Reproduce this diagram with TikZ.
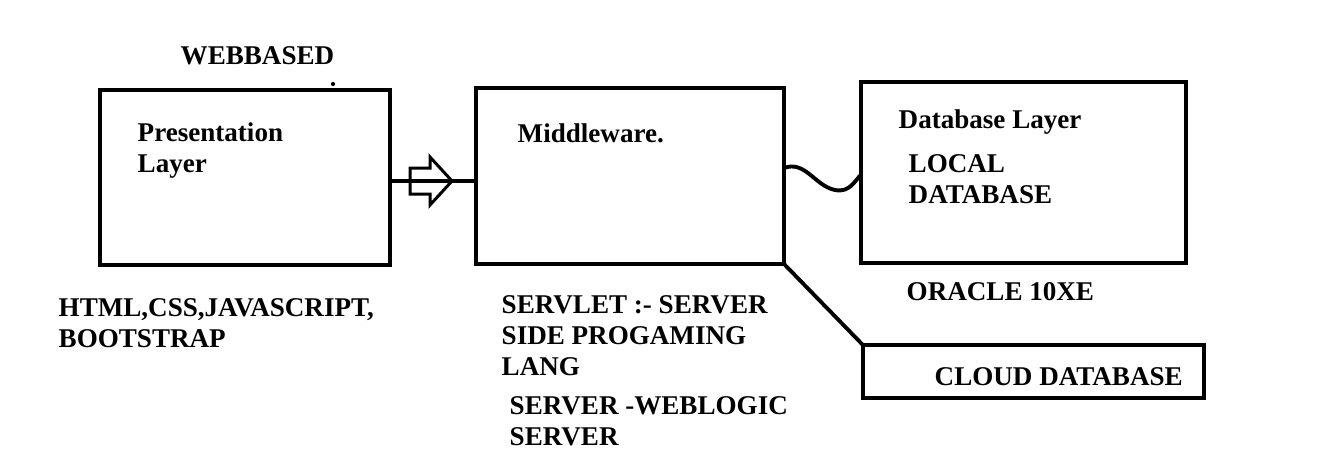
\documentclass[tikz,border=0pt]{standalone}
\usepackage{fontspec}
\setmainfont{Liberation Serif}
\usetikzlibrary{positioning}

\begin{document}
\begin{tikzpicture}[x=0.01cm,y=-0.01cm,
	layerbox/.style={draw, line width=1.15pt, inner sep=0pt, outer sep=0pt},
	label/.style={anchor=base west, inner sep=0pt, align=left,
		font=\bfseries\fontsize{7.7}{8.7}\selectfont},
	conn/.style={line width=1.1pt}]
	\useasboundingbox (0,0) rectangle (1325,460);

	% layer boxes
	\node[layerbox, minimum width=2.90cm, minimum height=1.75cm] (pres) at (245,177.5) {};
	\node[layerbox, minimum width=3.08cm, minimum height=1.76cm] (mid) at (630,176) {};
	\node[layerbox, minimum width=3.25cm, minimum height=1.81cm] (db) at (1023.5,172.5) {};
	\node[layerbox, minimum width=3.41cm, minimum height=0.53cm] (cloud) at (1033.5,371.5) {};

	% texts (base of the last line)
	\node[label] (webbased) at (180,64) {WEBBASED};
	\fill (333,84) circle (0.6pt);
	\node[label] (prestext) at (137,172) {Presentation\\Layer};
	\node[label] (midtext) at (517,142) {Middleware.};
	\node[label] (dbtext) at (898,128) {Database Layer};
	\node[label] (localdb) at (908,203) {LOCAL\\DATABASE};
	\node[label] (prestech) at (58,347) {HTML,CSS,JAVASCRIPT,\\BOOTSTRAP};
	\node[label] (servlet) at (501,375) {SERVLET :- SERVER\\SIDE PROGAMING\\LANG};
	\node[label] (weblogic) at (509,445) {SERVER -WEBLOGIC\\SERVER};
	\node[label] (oracle) at (906,300) {ORACLE 10XE};
	\node[label] (cloudtext) at (934,385) {CLOUD DATABASE};

	% hollow arrow
	\draw[line width=0.85pt, line join=miter] (410,168) -- (430,168) -- (430,157) -- (452,181)
		-- (430,205) -- (430,194) -- (410,194) -- cycle;

	% connectors
	\draw[conn] ([yshift=-0.035cm]pres.east) -- ([yshift=-0.05cm]mid.west);
	\draw[conn] ([yshift=0.08cm]mid.east) .. controls (805,160) and (815,186) .. (835,190)
		.. controls (850,193) and (855,180) .. ([yshift=-0.025cm]db.west);
	\draw[conn] (mid.south east) -- (cloud.north west);
\end{tikzpicture}
\end{document}
